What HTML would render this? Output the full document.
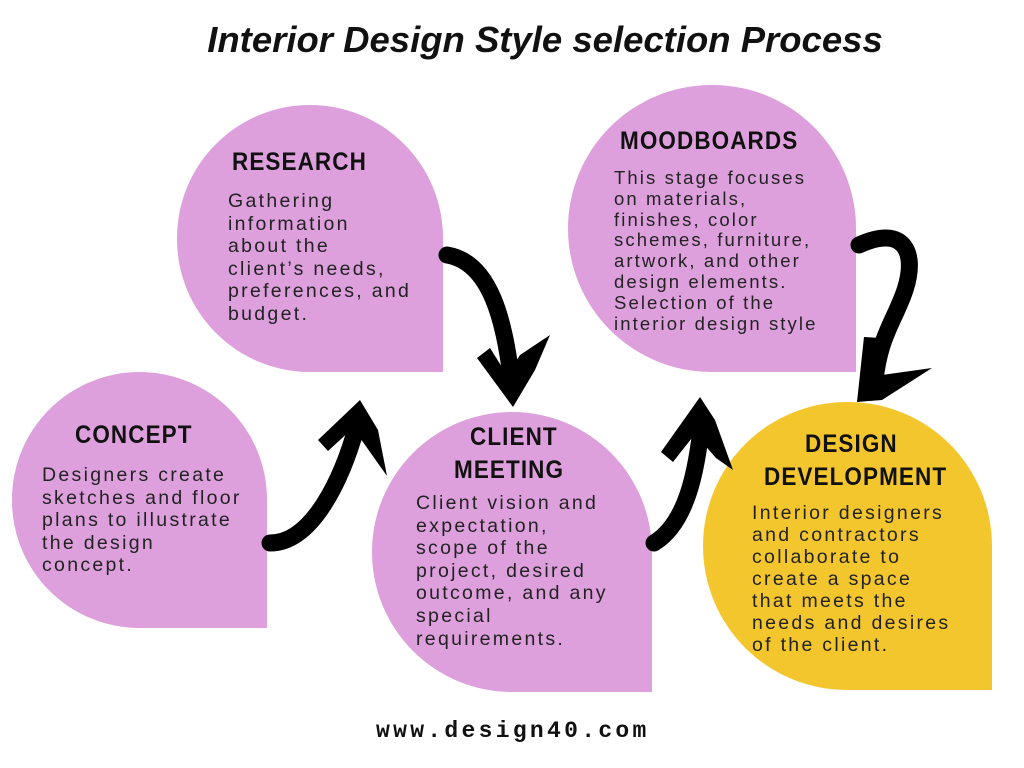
<!DOCTYPE html>
<html><head><meta charset="utf-8"><style>
body{margin:0;width:1024px;height:768px;background:#fff;position:relative;overflow:hidden;font-family:"Liberation Sans",sans-serif}
.b{position:absolute;background:#DDA0DD}
.t{position:absolute;font-family:"Liberation Sans",sans-serif;font-weight:bold;font-size:25px;color:#111;letter-spacing:1.2px;transform:scaleX(0.9);transform-origin:left top;line-height:33px}
.p{position:absolute;font-size:19.5px;color:#222;letter-spacing:2.3px;line-height:22.6px;white-space:pre}
</style></head><body>
<div style="position:absolute;left:0;width:1090px;top:19px;text-align:center;font-weight:bold;font-style:italic;font-size:36.5px;color:#111">Interior Design Style selection Process</div>

<div class="b" style="left:12px;top:372px;width:255px;height:256px;border-radius:128px 128px 0 128px"></div>
<div class="b" style="left:177px;top:105px;width:266px;height:267px;border-radius:133px 133px 0 133px"></div>
<div class="b" style="left:372px;top:412px;width:280px;height:280px;border-radius:140px 140px 0 140px"></div>
<div class="b" style="left:568px;top:85px;width:288px;height:287px;border-radius:144px 144px 0 144px"></div>
<div class="b" style="left:703px;top:402px;width:289px;height:288px;border-radius:144px 144px 0 144px;background:#F4C62E"></div>

<div class="t" style="left:75px;top:419px">CONCEPT</div>
<div class="p" style="left:42px;top:464px">Designers create
sketches and floor
plans to illustrate
the design
concept.</div>

<div class="t" style="left:232px;top:146px">RESEARCH</div>
<div class="p" style="left:228px;top:190px">Gathering
information
about the
client’s needs,
preferences, and
budget.</div>

<div class="t" style="left:470px;top:421px">CLIENT</div>
<div class="t" style="left:454px;top:454px">MEETING</div>
<div class="p" style="left:416px;top:492px">Client vision and
expectation,
scope of the
project, desired
outcome, and any
special
requirements.</div>

<div class="t" style="left:620px;top:125px">MOODBOARDS</div>
<div class="p" style="left:614px;top:168px;line-height:20.8px;font-size:18.5px;letter-spacing:2.1px">This stage focuses
on materials,
finishes, color
schemes, furniture,
artwork, and other
design elements.
Selection of the
interior design style</div>

<div class="t" style="left:805px;top:428px">DESIGN</div>
<div class="t" style="left:764px;top:461px">DEVELOPMENT</div>
<div class="p" style="left:752px;top:502px;line-height:22px">Interior designers
and contractors
collaborate to
create a space
that meets the
needs and desires
of the client.</div>

<div style="position:absolute;left:376px;top:718px;font-family:'Liberation Mono',monospace;font-weight:bold;font-size:23px;letter-spacing:3.3px;color:#111">www.design40.com</div>

<svg style="position:absolute;left:0;top:0" width="1024" height="768">
<g fill="none" stroke="#000" stroke-width="17" stroke-linecap="round">
<path d="M270 543 C312 543 342 480 357 425"/>
<path d="M447 255 C490 262 505 320 512 385"/>
<path d="M654 543 C687 523 697 470 702 420"/>
<path d="M859 245 C902 225 918 250 905 290 C895 320 880 335 875 380"/>
</g>
<g fill="#000">
<polygon points="360,400 318,440 328,451 353,428 370,452 387,476 378,430"/>
<polygon points="513,407 477,358 490,348 507,375 520,355 550,335 535,370"/>
<polygon points="700,397 661,452 673,462 695,434 716,458 733,470 715,420"/>
<polygon points="864,337 881,338 882,375 932,368 882,400 857,402"/>
</g>
</svg>
</body></html>
